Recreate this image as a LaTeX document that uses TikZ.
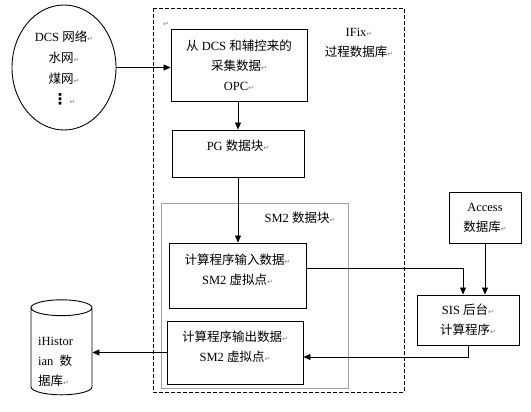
\documentclass[tikz,border=0pt]{standalone}
\usepackage{fontspec}
\setmainfont{Liberation Serif}
\newfontfamily\cjk{Noto Sans CJK SC}
\newfontfamily\symfont{DejaVu Sans}
\usetikzlibrary{arrows.meta,shapes.geometric}
\newcommand{\zh}[1]{{\cjk #1}}
\newcommand{\retmark}{{\symfont\color{gray}\fontsize{7}{7}\selectfont ↵}}

\begin{document}
\begin{tikzpicture}[
  x=1pt,y=-1pt,
  every node/.style={font=\fontsize{12.5}{20}\selectfont, inner sep=1pt},
  box/.style={draw, line width=0.9pt, align=center},
  lbl/.style={align=center},
  flow/.style={line width=0.8pt, -{Triangle[length=7pt,width=6pt]}},
  link/.style={line width=0.8pt}
]
\useasboundingbox (0,0) rectangle (531,412);

% outer frames
\draw[line width=0.8pt, dash pattern=on 4pt off 2pt] (153,8) rectangle (404,392);
\draw[line width=0.9pt, gray!75] (161,203) rectangle (348,388);
\node (mark) at (166,24) {\retmark};
\node[lbl] (ifix) at (359,43) {IFix\retmark\\\zh{过程数据库}\retmark};
\node[lbl] (sm2) at (300,218) {SM2 \zh{数据块}\retmark};

% sources and blocks
\node[draw, ellipse, line width=0.9pt, minimum width=104pt, minimum height=125pt, align=center] (nets) at (64,67.5)
  {DCS \zh{网络}\retmark\\[1pt]\zh{水网}\retmark\\[1pt]\zh{煤网}\retmark\\[1pt]{\symfont\bfseries\fontsize{15}{15}\selectfont ⋮}\,\retmark};
\node[box, minimum width=136pt, minimum height=72pt] (opc) at (239,65)
  {\zh{从} DCS \zh{和辅控来的}\\\zh{采集数据}\retmark\\OPC\retmark};
\node[box, minimum width=132pt, minimum height=47pt] (pg) at (238,153.5)
  {PG \zh{数据块}\retmark\\[-4pt]\mbox{}};
\node[box, minimum width=137pt, minimum height=65pt] (smin) at (237.5,275.5)
  {\zh{计算程序输入数据}\retmark\\SM2 \zh{虚拟点}\retmark\\[-8pt]\mbox{}};
\node[box, minimum width=136pt, minimum height=63pt] (smout) at (235,352.5)
  {\zh{计算程序输出数据}\retmark\\SM2 \zh{虚拟点}\retmark\\[-8pt]\mbox{}};
\node[box, minimum width=72pt, minimum height=51pt] (access) at (485,217.5)
  {Access\\\zh{数据库}\retmark};
\node[box, minimum width=102pt, minimum height=50pt] (sis) at (468,320)
  {SIS \zh{后台}\retmark\\\zh{计算程序}\retmark};
\node[draw, cylinder, shape border rotate=90, aspect=0.33, line width=0.9pt,
  minimum width=61pt, minimum height=95pt, text width=46pt] (hist) at (61.5,352.5) {};
\node[align=left, anchor=west] (histlbl) at (37,362)
  {iHistor\\ian\ \ \zh{数}\\\zh{据库}\retmark};

% connectors
\draw[flow] (nets.east) -- (nets.east -| opc.west);
\draw[flow] (pg.north |- opc.south) -- (pg.north);
\draw[flow] (pg.south) -- (pg.south |- smin.north);
\draw[flow] ([yshift=7.5pt]smin.east) -| ([xshift=-5pt]sis.north);
\draw[flow] (access.south) -- (access.south |- sis.north);
\draw[flow] (sis.south) |- ([yshift=-4.5pt]smout.east);
\draw[flow] (smout.west) -- (hist.east);
\end{tikzpicture}
\end{document}
